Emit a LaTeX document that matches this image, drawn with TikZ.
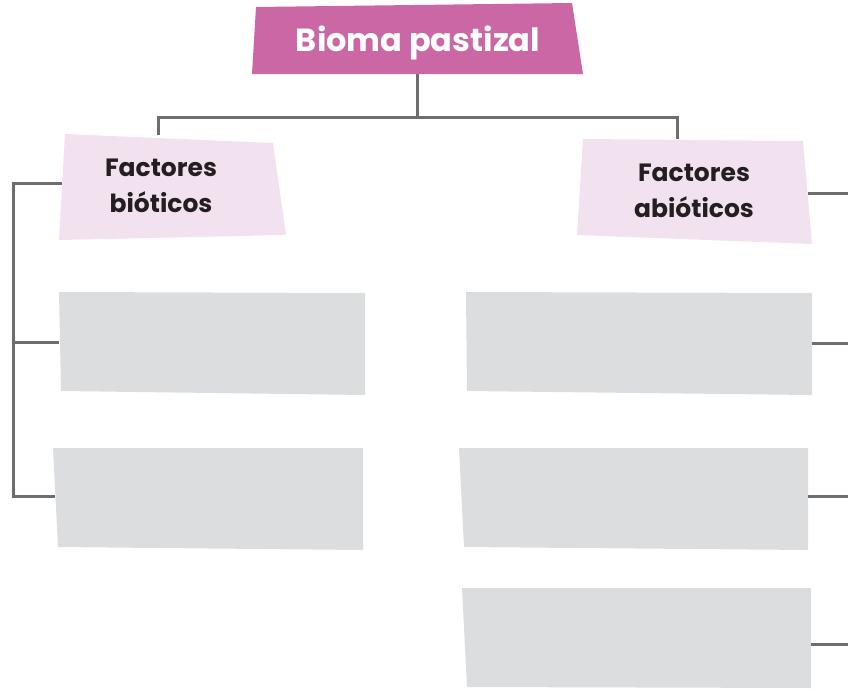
\documentclass[tikz,border=0pt]{standalone}
\usepackage{fontspec}
\setmainfont{Poppins}
\definecolor{titlepink}{HTML}{CC67A6}
\definecolor{lightpink}{HTML}{F2E1EE}
\definecolor{boxgray}{HTML}{DCDDDF}
\definecolor{linegray}{HTML}{6D6E70}
\definecolor{textdark}{HTML}{231F20}
\begin{document}
\begin{tikzpicture}[x=1pt,y=-1pt,
  conn/.style={draw=linegray,line width=3pt},
  titletext/.style={text=white,font=\fontsize{32}{40}\selectfont\bfseries},
  factext/.style={text=textdark,font=\fontsize{25}{36}\selectfont\bfseries,align=center}]
\useasboundingbox (0,0) rectangle (848,688);
% shapes
\fill[titlepink] (256,7) -- (572,3) -- (583,74) -- (252,74) -- cycle;
\fill[lightpink] (65,134) -- (273,143) -- (286,235) -- (59,240) -- cycle;
\fill[lightpink] (583,139) -- (803,141) -- (812,244) -- (577,235) -- cycle;
\fill[boxgray] (59,292) -- (365,293) -- (365,395) -- (61,391) -- cycle;
\fill[boxgray] (53,448) -- (363,448) -- (363,550) -- (58,547) -- cycle;
\fill[boxgray] (466,292) -- (812,293) -- (812,395) -- (467,391) -- cycle;
\fill[boxgray] (459,448) -- (808,448) -- (808,550) -- (464,547) -- cycle;
\fill[boxgray] (462,588) -- (811,588) -- (811,688) -- (467,687) -- cycle;
% text nodes
\node[titletext] (title) at (418,43) {Bioma pastizal};
\node[factext] (bio) at (161,186) {Factores\\bióticos};
\node[factext] (abio) at (694,191) {Factores\\abióticos};
% anchor coordinates
\coordinate (titleB) at (417,74);
\coordinate (hub) at (417,117);
\coordinate (bioT) at (158,135);
\coordinate (abioT) at (677,139);
\coordinate (bioL) at (62,183);
\coordinate (leftBus) at (13,183);
\coordinate (l1) at (59,342);
\coordinate (l2) at (55,496);
\coordinate (abioR) at (808,193);
\coordinate (r0) at (848,193);
\coordinate (r1a) at (812,343);
\coordinate (r1) at (848,343);
\coordinate (r2a) at (808,496);
\coordinate (r2) at (848,496);
\coordinate (r3a) at (811,644);
\coordinate (r3) at (848,644);
% connectors
\draw[conn] (titleB) -- (hub);
\draw[conn] (bioT) |- (hub) -| (abioT);
\draw[conn] (bioL) -- (leftBus) |- (l2);
\draw[conn] (leftBus |- l1) -- (l1);
\draw[conn] (abioR) -- (r0);
\draw[conn] (r1a) -- (r1);
\draw[conn] (r2a) -- (r2);
\draw[conn] (r3a) -- (r3);
\end{tikzpicture}
\end{document}
